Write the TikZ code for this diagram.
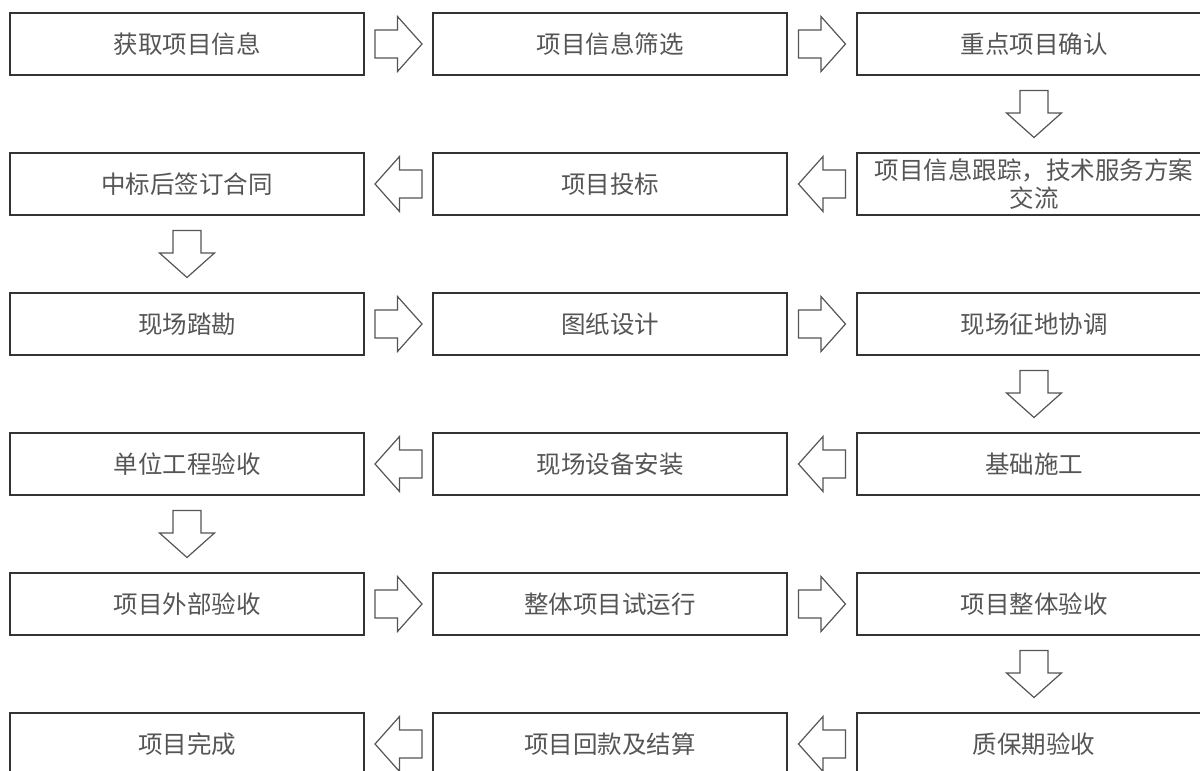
\documentclass[tikz,border=0pt]{standalone}
\usepackage{fontspec}
\setmainfont{Noto Sans CJK SC}
\usetikzlibrary{calc}
\definecolor{cline}{HTML}{333333}
\definecolor{ctext}{HTML}{555555}
\definecolor{carrow}{HTML}{555555}
\tikzset{
  every picture/.style={x=1pt, y=1pt, line width=1.3pt},
  stepbox/.style={draw=cline, minimum width=354pt, minimum height=62pt, inner sep=0pt, align=center, text=ctext, font=\fontsize{24.5}{28}\selectfont},
  blockarrow/.style={draw=carrow, line width=1.2pt, line join=miter},
}
% hollow block arrow half way between two anchors, turned by #3
\newcommand{\flowarrow}[3]{%
  \draw[blockarrow, shift={($(#1)!0.5!(#2)$)}, rotate=#3]
    (-23.5,-14) -- (-1,-14) -- (-1,-27.5) -- (23.5,0) -- (-1,27.5) -- (-1,14) -- (-23.5,14) -- cycle;}

\begin{document}
\begin{tikzpicture}
  \useasboundingbox (0,0) rectangle (1200,-771);
  \clip (0,0) rectangle (1200,-771);
  % row 1
  \node[stepbox] (s1) at (187,-44) {获取项目信息};
  \node[stepbox] (s2) at (610,-44) {项目信息筛选};
  \node[stepbox] (s3) at (1034,-44) {重点项目确认};
  % row 2
  \node[stepbox] (s4) at (1034,-184) {项目信息跟踪，技术服务方案\\交流};
  \node[stepbox] (s5) at (610,-184) {项目投标};
  \node[stepbox] (s6) at (187,-184) {中标后签订合同};
  % row 3
  \node[stepbox] (s7) at (187,-324) {现场踏勘};
  \node[stepbox] (s8) at (610,-324) {图纸设计};
  \node[stepbox] (s9) at (1034,-324) {现场征地协调};
  % row 4
  \node[stepbox] (s10) at (1034,-464) {基础施工};
  \node[stepbox] (s11) at (610,-464) {现场设备安装};
  \node[stepbox] (s12) at (187,-464) {单位工程验收};
  % row 5
  \node[stepbox] (s13) at (187,-604) {项目外部验收};
  \node[stepbox] (s14) at (610,-604) {整体项目试运行};
  \node[stepbox] (s15) at (1034,-604) {项目整体验收};
  % row 6
  \node[stepbox] (s16) at (1034,-744) {质保期验收};
  \node[stepbox] (s17) at (610,-744) {项目回款及结算};
  \node[stepbox] (s18) at (187,-744) {项目完成};

  \flowarrow{s1.east}{s2.west}{0}
  \flowarrow{s2.east}{s3.west}{0}
  \flowarrow{s3.south}{s4.north}{-90}
  \flowarrow{s4.west}{s5.east}{180}
  \flowarrow{s5.west}{s6.east}{180}
  \flowarrow{s6.south}{s7.north}{-90}
  \flowarrow{s7.east}{s8.west}{0}
  \flowarrow{s8.east}{s9.west}{0}
  \flowarrow{s9.south}{s10.north}{-90}
  \flowarrow{s10.west}{s11.east}{180}
  \flowarrow{s11.west}{s12.east}{180}
  \flowarrow{s12.south}{s13.north}{-90}
  \flowarrow{s13.east}{s14.west}{0}
  \flowarrow{s14.east}{s15.west}{0}
  \flowarrow{s15.south}{s16.north}{-90}
  \flowarrow{s16.west}{s17.east}{180}
  \flowarrow{s17.west}{s18.east}{180}
\end{tikzpicture}
\end{document}
